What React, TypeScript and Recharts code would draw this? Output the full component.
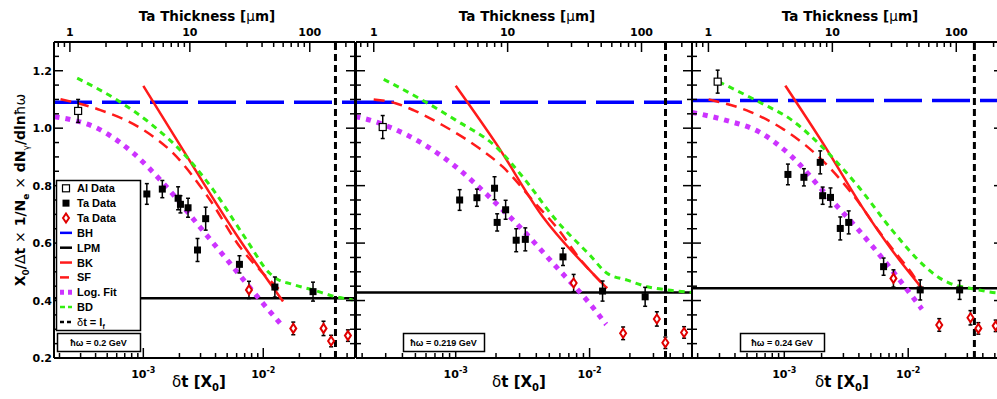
import { ComposedChart, Line, Scatter, ErrorBar, XAxis, YAxis, ReferenceLine } from 'recharts'

// photon energy of each panel (GeV)
const energies = ['0.2', '0.219', '0.24']

// Bethe-Heitler and LPM plateaus, formation length (X0), per panel
const bhLevel = [1.09, 1.09, 1.096]
const lpmLevel = [0.408, 0.428, 0.443]
const formationLength = [0.04, 0.0369, 0.0342]

// Al data (open squares)
const alX = [2.86e-4, 2.85e-4, 2.9e-4]
const alY = [1.06, 1.004, 1.162]
const alErr = [0.04, 0.04, 0.04]

// Ta data (black squares)
const taX = [1.07e-3, 1.44e-3, 1.95e-3, 2.04e-3, 2.36e-3, 2.83e-3, 3.31e-3, 6.33e-3, 1.25e-2, 2.6e-2]
const taErr = [0.036, 0.03, 0.04, 0.03, 0.033, 0.04, 0.04, 0.03, 0.035, 0.033]
const taY1 = [0.771, 0.788, 0.756, 0.735, 0.723, 0.576, 0.685, 0.526, 0.447, 0.431]
const taY2 = [0.75, 0.758, 0.791, 0.672, 0.716, 0.61, 0.613, 0.552, 0.433, 0.413]
const taY3 = [0.839, 0.829, 0.881, 0.765, 0.759, 0.651, 0.672, 0.518, 0.437, 0.437]

// Ta data (red open diamonds)
const diaX = [7.6e-3, 1.78e-2, 3.18e-2, 3.68e-2, 5.08e-2]
const diaErr = [0.03, 0.022, 0.025, 0.02, 0.02]
const diaY1 = [0.437, 0.303, 0.303, 0.259, 0.278]
const diaY2 = [0.461, 0.286, 0.336, 0.253, 0.289]
const diaY3 = [0.477, 0.315, 0.34, 0.303, 0.312]

// theory curves, [dt, value]
const sf1 = [[2.04e-4, 1.101], [4.39e-4, 1.063], [1.0e-3, 0.994], [1.78e-3, 0.912], [3.6e-3, 0.75], [6.38e-3, 0.587], [9.95e-3, 0.495], [1.42e-2, 0.431]]
const bk1 = [[1.0e-3, 1.147], [1.9e-3, 0.959], [6.38e-3, 0.611], [1.46e-2, 0.397]]
const fit1 = [[1.82e-4, 1.04], [4.39e-4, 0.994], [8.3e-4, 0.912], [1.47e-3, 0.808], [2.79e-3, 0.669], [5.27e-3, 0.53], [9.95e-3, 0.39], [1.46e-2, 0.309]]
const bd1 = [[2.81e-4, 1.174], [6.04e-4, 1.098], [1.14e-3, 1.017], [2.16e-3, 0.912], [3.83e-3, 0.785], [7.26e-3, 0.611], [1.13e-2, 0.495], [1.3e-2, 0.475], [1.7e-2, 0.458], [2.59e-2, 0.437], [4.06e-2, 0.413], [5.57e-2, 0.402]]

const sf2 = [[2.44e-4, 1.1], [3.55e-4, 1.087], [4.87e-4, 1.062], [7.94e-4, 1.011], [1.5e-3, 0.93], [2.24e-3, 0.866], [3.87e-3, 0.742], [5.62e-3, 0.657], [8.91e-3, 0.532], [1.35e-2, 0.443]]
const bk2 = [[1.0e-3, 1.148], [2.0e-3, 0.947], [4.47e-3, 0.692], [1.0e-2, 0.506], [1.35e-2, 0.443]]
const fit2 = [[1.78e-4, 1.04], [2.05e-4, 1.034], [3.16e-4, 1.005], [5.62e-4, 0.947], [1.0e-3, 0.866], [1.78e-3, 0.761], [3.16e-3, 0.646], [5.62e-3, 0.518], [1.0e-2, 0.39], [1.33e-2, 0.317]]
const bd2 = [[2.9e-4, 1.17], [5.62e-4, 1.098], [1.0e-3, 1.028], [2.0e-3, 0.935], [3.16e-3, 0.831], [5.62e-3, 0.68], [1.0e-2, 0.559], [1.35e-2, 0.495], [1.91e-2, 0.471], [2.7e-2, 0.448], [3.81e-2, 0.437], [5.89e-2, 0.428]]

const sf3 = [[2.45e-4, 1.1], [5.31e-4, 1.057], [9.86e-4, 0.996], [1.48e-3, 0.941], [2.28e-3, 0.866], [3.51e-3, 0.773], [6.12e-3, 0.628], [8.36e-3, 0.553], [1.07e-2, 0.495], [1.26e-2, 0.445]]
const bk3 = [[1.02e-3, 1.148], [2.14e-3, 0.935], [4.23e-3, 0.727], [7.38e-3, 0.576], [1.29e-2, 0.443]]
const fit3 = [[1.8e-4, 1.055], [3.34e-4, 1.028], [6.21e-4, 0.988], [1.15e-3, 0.901], [2.14e-3, 0.773], [3.97e-3, 0.646], [7.38e-3, 0.506], [1.29e-2, 0.37]]
const bd3 = [[2.95e-4, 1.162], [6.21e-4, 1.092], [1.15e-3, 1.028], [2.14e-3, 0.924], [3.97e-3, 0.796], [7.38e-3, 0.646], [1.37e-2, 0.518], [1.74e-2, 0.482], [2.17e-2, 0.46], [3.14e-2, 0.443], [5.15e-2, 0.427], [5.82e-2, 0.425]]

// axis ticks
const dtTicks = [2e-4, 3e-4, 4e-4, 5e-4, 6e-4, 7e-4, 8e-4, 9e-4, 1e-3, 2e-3, 3e-3, 4e-3, 5e-3, 6e-3, 7e-3, 8e-3, 9e-3, 1e-2, 2e-2, 3e-2, 4e-2, 5e-2]
const umTicks = [0.8, 0.9, 1, 2, 3, 4, 5, 6, 7, 8, 9, 10, 20, 30, 40, 50, 60, 70, 80, 90, 100, 200]
const yTicks = [0.2, 0.25, 0.3, 0.35, 0.4, 0.45, 0.5, 0.55, 0.6, 0.65, 0.7, 0.75, 0.8, 0.85, 0.9, 0.95, 1.0, 1.05, 1.1, 1.15, 1.2, 1.25]

const DT_DOMAIN = [1.8e-4, 0.0582]
const UM_PER_X0 = 4094
const UM_DOMAIN = [DT_DOMAIN[0] * UM_PER_X0, DT_DOMAIN[1] * UM_PER_X0]
const Y_DOMAIN = [0.2, 1.3]

const FONT = '"DejaVu Sans", sans-serif'
const LFONT = '"Liberation Sans", Arial, sans-serif'

const layout = [
  { left: 0, width: 360, axisW: 54 },
  { left: 346, width: 351, axisW: 10 },
  { left: 682, width: 326, axisW: 10 },
]

const panelData = [
  { ta: taY1, dia: diaY1, sf: sf1, bk: bk1, fit: fit1, bd: bd1 },
  { ta: taY2, dia: diaY2, sf: sf2, bk: bk2, fit: fit2, bd: bd2 },
  { ta: taY3, dia: diaY3, sf: sf3, bk: bk3, fit: fit3, bd: bd3 },
]

const pairs = (pts: number[][]) => pts.map(([x, y]) => ({ x, y }))
const rows = (xs: number[], ys: number[], errs: number[]) => xs.map((x, i) => ({ x, y: ys[i], err: errs[i] }))
const isDecade = (v: number) => Math.abs(Math.log10(v) - Math.round(Math.log10(v))) < 1e-6
const isMajorY = (v: number) => Math.abs(v * 5 - Math.round(v * 5)) < 1e-6

function BottomTick(props: any) {
  const { x, y, payload } = props
  const major = isDecade(payload.value)
  return (
    <g>
      <line x1={x} x2={x} y1={y} y2={y - (major ? 10 : 5)} stroke="#000" strokeWidth={1.5} />
      {major && (
        <text x={x} y={y + 20} textAnchor="middle" fontFamily={FONT} fontWeight="bold" fontSize={11} fill="#000">
          10<tspan dy={-5} fontSize={8}>{Math.round(Math.log10(payload.value))}</tspan>
        </text>
      )}
    </g>
  )
}

function TopTick(props: any) {
  const { x, y, payload } = props
  const major = isDecade(payload.value)
  return (
    <g>
      <line x1={x} x2={x} y1={y} y2={y + (major ? 10 : 5)} stroke="#000" strokeWidth={1.5} />
      {major && (
        <text x={x} y={y - 6} textAnchor="middle" fontFamily={FONT} fontWeight="bold" fontSize={11} fill="#000">
          {Math.round(payload.value)}
        </text>
      )}
    </g>
  )
}

function LeftTick(props: any) {
  const { x, y, payload, showLabel } = props
  const major = isMajorY(payload.value)
  return (
    <g>
      <line x1={x} x2={x + (major ? 9 : 5)} y1={y} y2={y} stroke="#000" strokeWidth={1.5} />
      {major && showLabel && (
        <text x={x - 2} y={y + 4} textAnchor="end" fontFamily={FONT} fontWeight="bold" fontSize={11} fill="#000">
          {payload.value.toFixed(1)}
        </text>
      )}
    </g>
  )
}

function RightTick(props: any) {
  const { x, y, payload } = props
  const major = isMajorY(payload.value)
  return <line x1={x} x2={x - (major ? 9 : 5)} y1={y} y2={y} stroke="#000" strokeWidth={1.5} />
}

const squareShape = (p: any) => <rect x={p.cx - 3.5} y={p.cy - 3.5} width={7} height={7} fill="#000" />
const openSquareShape = (p: any) => (
  <rect x={p.cx - 3.5} y={p.cy - 3.5} width={7} height={7} fill="#fff" stroke="#000" strokeWidth={1.2} />
)
const diamondShape = (p: any) => (
  <polygon
    points={`${p.cx},${p.cy - 4.5} ${p.cx + 3},${p.cy} ${p.cx},${p.cy + 4.5} ${p.cx - 3},${p.cy}`}
    fill="#fff"
    stroke="#e00000"
    strokeWidth={2}
  />
)

const axisLine = { stroke: '#000', strokeWidth: 2 }

function Panel({ i }: { i: number }) {
  const p = layout[i]
  const d = panelData[i]
  const common = { xAxisId: 'b', yAxisId: 'l', isAnimationActive: false }
  // BH plateau spans the whole thickness range; drawn against the top/right axes
  const bhData = UM_DOMAIN.map((x) => ({ x, y: bhLevel[i] }))
  return (
    <div style={{ position: 'absolute', left: p.left, top: 0 }}>
      <ComposedChart width={p.width} height={399} margin={{ top: 12, right: 0, bottom: 11, left: 0 }}>
        <XAxis
          xAxisId="b"
          dataKey="x"
          type="number"
          scale="log"
          domain={DT_DOMAIN}
          allowDataOverflow
          ticks={dtTicks}
          interval={0}
          tickSize={0}
          tickMargin={0}
          tick={<BottomTick />}
          tickLine={false}
          axisLine={axisLine}
          height={30}
        />
        <XAxis
          xAxisId="t"
          dataKey="x"
          orientation="top"
          type="number"
          scale="log"
          domain={UM_DOMAIN}
          allowDataOverflow
          ticks={umTicks}
          interval={0}
          tickSize={0}
          tickMargin={0}
          tick={<TopTick />}
          tickLine={false}
          axisLine={axisLine}
          height={30}
        />
        <YAxis
          yAxisId="l"
          type="number"
          domain={Y_DOMAIN}
          allowDataOverflow
          ticks={yTicks}
          interval={0}
          tickSize={0}
          tickMargin={0}
          tick={(tp: any) => <LeftTick {...tp} showLabel={i === 0} />}
          tickLine={false}
          axisLine={axisLine}
          width={p.axisW}
        />
        <YAxis
          yAxisId="r"
          orientation="right"
          type="number"
          domain={Y_DOMAIN}
          allowDataOverflow
          ticks={yTicks}
          interval={0}
          tickSize={0}
          tickMargin={0}
          tick={<RightTick />}
          tickLine={false}
          axisLine={axisLine}
          width={5}
        />
        <ReferenceLine xAxisId="b" yAxisId="l" y={lpmLevel[i]} stroke="#000" strokeWidth={2.5} />
        <Line
          xAxisId="t"
          yAxisId="r"
          isAnimationActive={false}
          data={bhData}
          dataKey="y"
          type="linear"
          stroke="#0000ff"
          strokeWidth={3.5}
          strokeDasharray="38 10"
          dot={false}
        />
        <Line {...common} data={pairs(d.fit)} dataKey="y" type="monotone" stroke="#cc33ff" strokeWidth={5} strokeDasharray="5 6" dot={false} />
        <Line {...common} data={pairs(d.sf)} dataKey="y" type="monotone" stroke="#ff1a1a" strokeWidth={2.5} strokeDasharray="11 7" dot={false} />
        <Line {...common} data={pairs(d.bk)} dataKey="y" type="monotone" stroke="#ff1a1a" strokeWidth={2.5} dot={false} />
        <Line {...common} data={pairs(d.bd)} dataKey="y" type="monotone" stroke="#33ee11" strokeWidth={3} strokeDasharray="6 5" dot={false} />
        <ReferenceLine xAxisId="b" yAxisId="l" x={formationLength[i]} stroke="#000" strokeWidth={3} strokeDasharray="7 4" />
        <Scatter {...common} data={rows([alX[i]], [alY[i]], [alErr[i]])} dataKey="y" shape={openSquareShape}>
          <ErrorBar dataKey="err" direction="y" width={2} stroke="#000" strokeWidth={1.5} />
        </Scatter>
        <Scatter {...common} data={rows(taX, d.ta, taErr)} dataKey="y" shape={squareShape}>
          <ErrorBar dataKey="err" direction="y" width={2} stroke="#000" strokeWidth={1.5} />
        </Scatter>
        <Scatter {...common} data={rows(diaX, d.dia, diaErr)} dataKey="y" shape={diamondShape}>
          <ErrorBar dataKey="err" direction="y" width={2} stroke="#000" strokeWidth={1.5} />
        </Scatter>
      </ComposedChart>
    </div>
  )
}

const legendItems = [
  { label: 'Al Data', kind: 'open' },
  { label: 'Ta Data', kind: 'square' },
  { label: 'Ta Data', kind: 'diamond' },
  { label: 'BH', kind: 'line', color: '#0000ff', dash: '' },
  { label: 'LPM', kind: 'line', color: '#000', dash: '' },
  { label: 'BK', kind: 'line', color: '#ff1a1a', dash: '' },
  { label: 'SF', kind: 'line', color: '#ff1a1a', dash: '9 4' },
  { label: 'Log. Fit', kind: 'line', color: '#cc33ff', dash: '4 4', w: 5 },
  { label: 'BD', kind: 'line', color: '#33ee11', dash: '5 3' },
  { label: 'lf', kind: 'line', color: '#000', dash: '4 3' },
]

const energyBoxes = [
  { x: 57, w: 83 },
  { x: 403, w: 81 },
  { x: 740, w: 84 },
]
const titleCenters = [207, 527, 850]

function Overlay() {
  return (
    <svg width={997} height={399} style={{ position: 'absolute', left: 0, top: 0, pointerEvents: 'none' }}>
      {titleCenters.map((cx, k) => (
        <g key={k}>
          <text x={cx} y={21} textAnchor="middle" fontFamily={FONT} fontWeight="bold" fontSize={13.5}>
            Ta Thickness [<tspan fontWeight="normal">μ</tspan>m]
          </text>
          <text x={cx - 8} y={387} textAnchor="middle" fontFamily={FONT} fontWeight="bold" fontSize={15}>
            <tspan fontWeight="normal">δ</tspan>t [X<tspan dy={4} fontSize={10}>0</tspan><tspan dy={-4}>]</tspan>
          </text>
        </g>
      ))}
      <text
        transform="translate(25,190) rotate(-90)"
        textAnchor="middle"
        fontFamily={FONT}
        fontWeight="bold"
        fontSize={14}
      >
        X<tspan dy={4} fontSize={9}>0</tspan>
        <tspan dy={-4}>/</tspan>
        <tspan fontWeight="normal">Δ</tspan>t <tspan fontWeight="normal">×</tspan> 1/N
        <tspan dy={4} fontSize={9}>e</tspan>
        <tspan dy={-4}> </tspan>
        <tspan fontWeight="normal">×</tspan> dN<tspan dy={4} fontSize={9} fontWeight="normal">γ</tspan>
        <tspan dy={-4}>/dln</tspan>
        <tspan fontWeight="normal">ħω</tspan>
      </text>

      <rect x={56.5} y={180.5} width={84} height={150} fill="#fff" stroke="#000" strokeWidth={1.5} />
      {legendItems.map((it: any, k) => {
        const cy = 188.3 + k * 14.85
        let sym = null
        if (it.kind === 'open') sym = openSquareShape({ cx: 66, cy })
        else if (it.kind === 'square') sym = squareShape({ cx: 66, cy })
        else if (it.kind === 'diamond') sym = diamondShape({ cx: 66, cy })
        else
          sym = (
            <line x1={60} x2={72} y1={cy} y2={cy} stroke={it.color} strokeWidth={it.w || 2.5} strokeDasharray={it.dash || undefined} />
          )
        return (
          <g key={k}>
            {sym}
            <text x={77} y={cy + 4} fontFamily={LFONT} fontWeight="bold" fontSize={11}>
              {it.kind === 'line' && it.label === 'lf' ? (
                <>
                  <tspan fontWeight="normal">δ</tspan>t = l<tspan dy={3} fontSize={7}>f</tspan>
                </>
              ) : (
                it.label
              )}
            </text>
          </g>
        )
      })}

      {energyBoxes.map((b, k) => (
        <g key={k}>
          <rect x={b.x + 0.5} y={333.5} width={b.w} height={18} fill="#fff" stroke="#000" strokeWidth={1.5} />
          <text x={b.x + b.w / 2} y={346} textAnchor="middle" fontFamily={LFONT} fontWeight="bold" fontSize={9}>
            ħω = {energies[k]} GeV
          </text>
        </g>
      ))}
    </svg>
  )
}

export default function App() {
  return (
    <div style={{ position: 'absolute', left: 0, top: 0, width: 997, height: 399, overflow: 'hidden', background: '#fff' }}>
      <Panel i={0} />
      <Panel i={1} />
      <Panel i={2} />
      <Overlay />
    </div>
  )
}
